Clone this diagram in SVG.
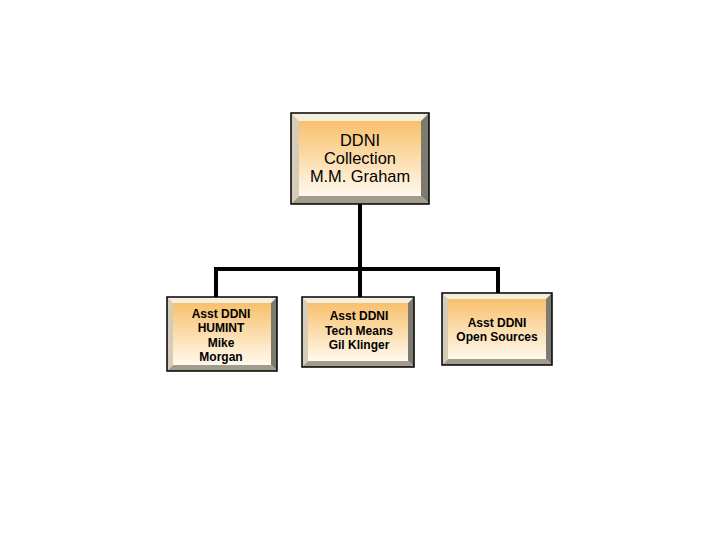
<svg xmlns="http://www.w3.org/2000/svg" width="720" height="540" viewBox="0 0 720 540">
<defs>
<linearGradient id="face" x1="0" y1="0" x2="0" y2="1">
<stop offset="0" stop-color="#F8C06C"/>
<stop offset="1" stop-color="#FFF9EE"/>
</linearGradient>
<style>
.bt{fill:#F4EEDD}.bl{fill:#D6CCB8}.br{fill:#7E7A70}.bb{fill:#A39C8C}
.face{fill:url(#face)}
.out{fill:none;stroke:#000;stroke-width:1.5}
.ln{stroke:#000;stroke-width:4;fill:none}
text{font-family:"Liberation Sans",Arial,sans-serif;fill:#000;text-anchor:middle}
.big{font-size:16.4px}
.sm{font-size:12px;font-weight:bold}
</style>
</defs>
<rect width="720" height="540" fill="#fff"/>
<g id="connectors">
<line class="ln" x1="360" y1="204" x2="360" y2="298"/>
<polyline class="ln" points="216,298 216,269 498,269 498,294"/>
</g>
<g id="top">
<polygon class="bt" points="291,113 429,113 421,121 299,121"/>
<polygon class="bl" points="291,113 299,121 299,196 291,204"/>
<polygon class="br" points="429,113 429,204 421,196 421,121"/>
<polygon class="bb" points="291,204 299,196 421,196 429,204"/>
<rect class="face" x="299" y="121" width="122" height="75"/>
<rect class="out" x="291" y="113" width="138" height="91"/>
<text class="big" x="360" y="146">DDNI</text>
<text class="big" x="360" y="164">Collection</text>
<text class="big" x="360" y="182">M.M. Graham</text>
</g>
<g id="humint">
<polygon class="bt" points="167,297 277,297 271,303 173,303"/>
<polygon class="bl" points="167,297 173,303 173,365 167,371"/>
<polygon class="br" points="277,297 277,371 271,365 271,303"/>
<polygon class="bb" points="167,371 173,365 271,365 277,371"/>
<rect class="face" x="173" y="303" width="98" height="62"/>
<rect class="out" x="167" y="297" width="110" height="74"/>
<text class="sm" x="221" y="317.5">Asst DDNI</text>
<text class="sm" x="221" y="332">HUMINT</text>
<text class="sm" x="221" y="346.5">Mike</text>
<text class="sm" x="221" y="361">Morgan</text>
</g>
<g id="tech">
<polygon class="bt" points="302,297 414,297 408,303 308,303"/>
<polygon class="bl" points="302,297 308,303 308,361 302,367"/>
<polygon class="br" points="414,297 414,367 408,361 408,303"/>
<polygon class="bb" points="302,367 308,361 408,361 414,367"/>
<rect class="face" x="308" y="303" width="100" height="58"/>
<rect class="out" x="302" y="297" width="112" height="70"/>
<text class="sm" x="359" y="320">Asst DDNI</text>
<text class="sm" x="359" y="334.5">Tech Means</text>
<text class="sm" x="359" y="349">Gil Klinger</text>
</g>
<g id="open">
<polygon class="bt" points="442,293 552,293 546,299 448,299"/>
<polygon class="bl" points="442,293 448,299 448,359 442,365"/>
<polygon class="br" points="552,293 552,365 546,359 546,299"/>
<polygon class="bb" points="442,365 448,359 546,359 552,365"/>
<rect class="face" x="448" y="299" width="98" height="60"/>
<rect class="out" x="442" y="293" width="110" height="72"/>
<text class="sm" x="497" y="326.5">Asst DDNI</text>
<text class="sm" x="497" y="341">Open Sources</text>
</g>
</svg>
